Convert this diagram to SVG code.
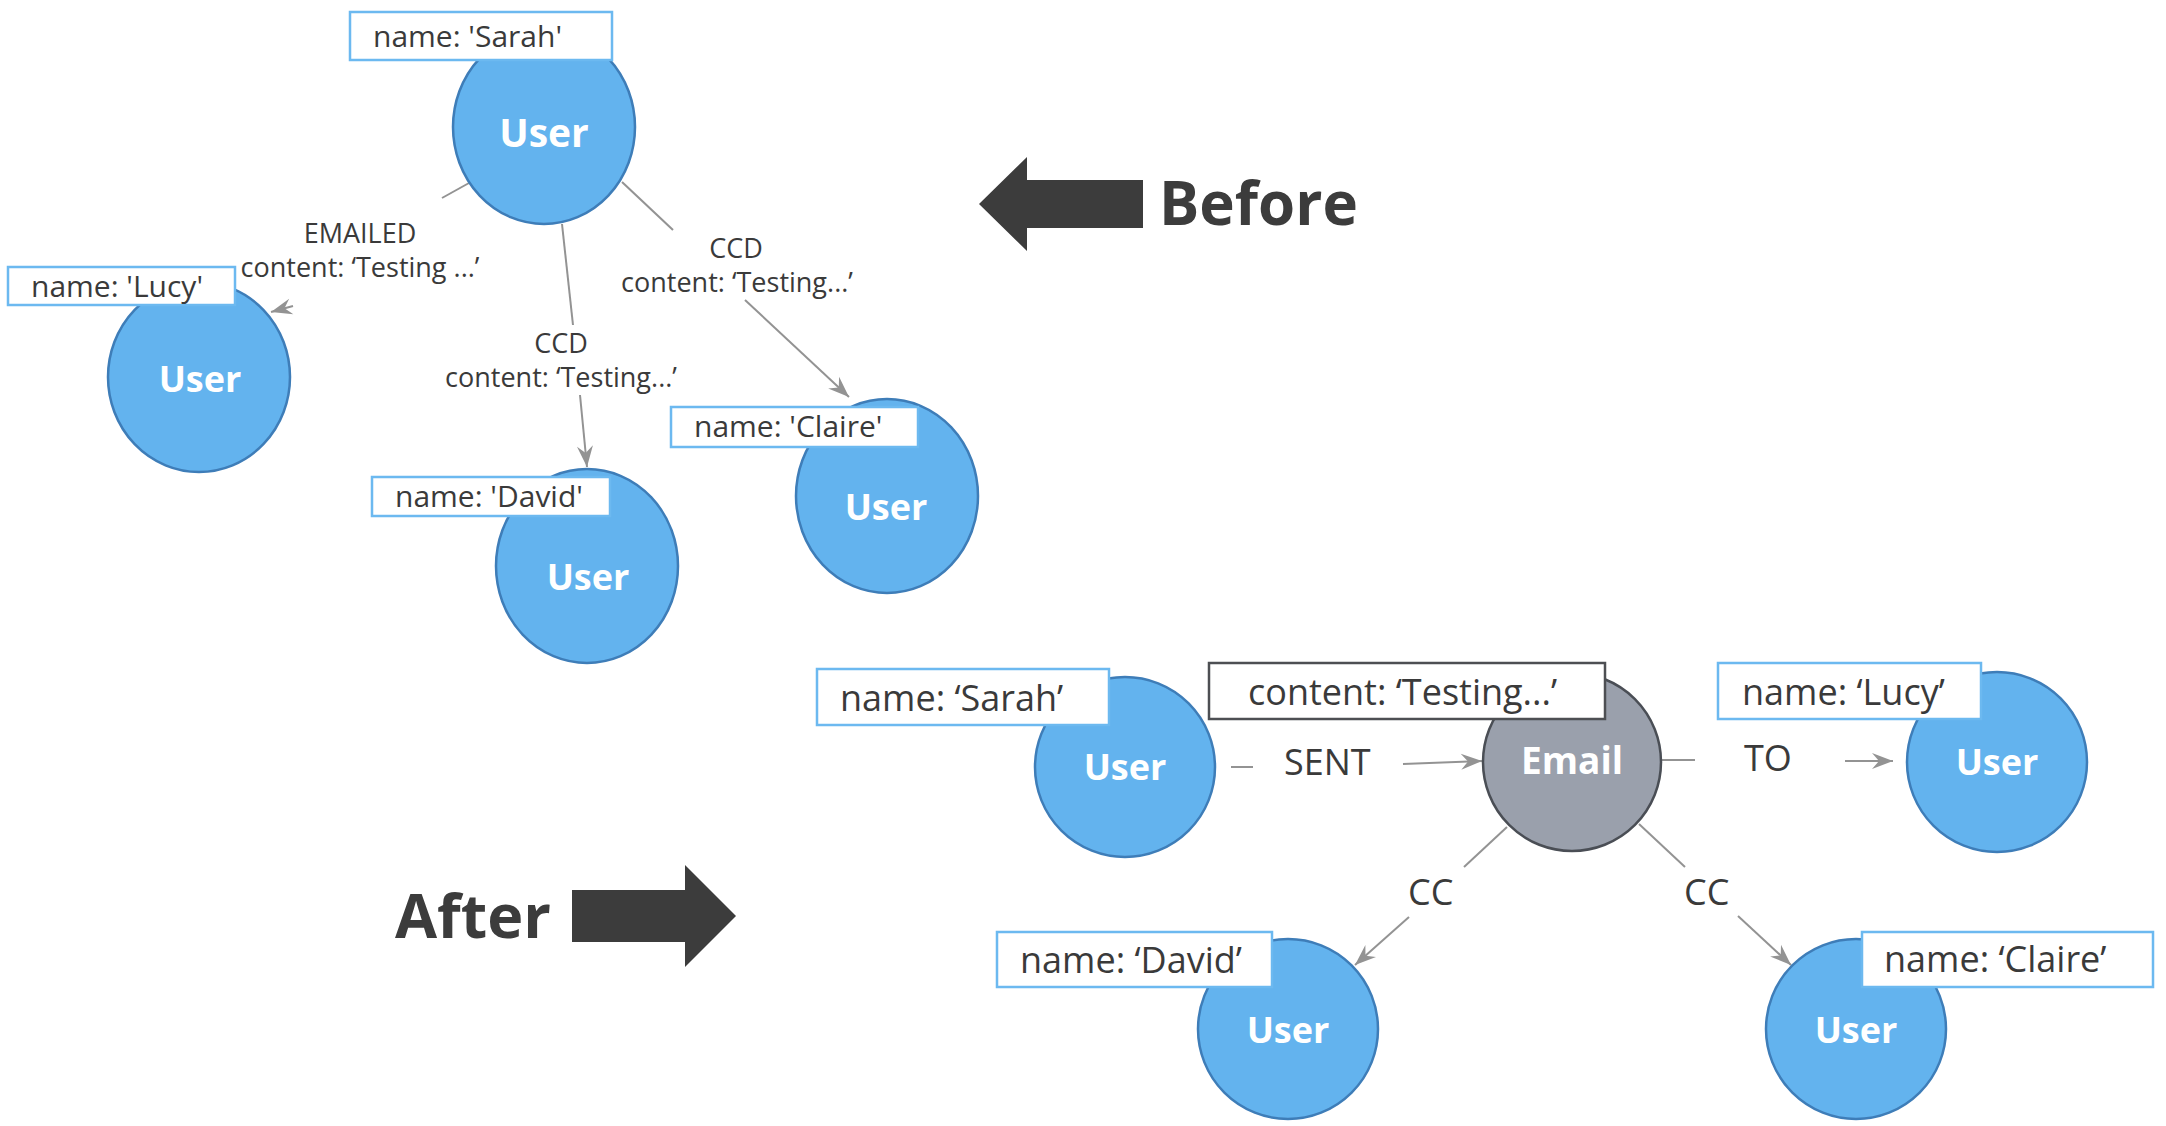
<svg xmlns="http://www.w3.org/2000/svg" width="2166" height="1126" viewBox="0 0 2166 1126">
<style>
.node{fill:#63b3ee;stroke:#3e7db8;stroke-width:2.5}
.email{fill:#9aa0ac;stroke:#4a4e55;stroke-width:2.5}
.nt{font-family:"Open Sans","Liberation Sans",sans-serif;font-weight:bold;fill:#ffffff;text-anchor:middle}
.lbl{fill:#ffffff;stroke:#6cb9f0;stroke-width:2.5}
.lbld{fill:#ffffff;stroke:#4d4f53;stroke-width:2.5}
.lt{font-family:"Open Sans","Liberation Sans",sans-serif;fill:#3a3a3a}
.et{font-family:"Open Sans","Liberation Sans",sans-serif;fill:#3a3a3a;font-size:27px;text-anchor:middle}
.e{stroke:#939393;stroke-width:2;fill:none}
.ea{stroke:#939393;stroke-width:2;fill:none;marker-end:url(#arr)}
.big{font-family:"Open Sans","Liberation Sans",sans-serif;font-weight:bold;fill:#3c3c3c}
</style>
<defs>
<marker id="arr" markerUnits="userSpaceOnUse" viewBox="-22 -9 24 18" refX="0" refY="0" markerWidth="24" markerHeight="18" orient="auto">
<path d="M0,0 L-21,-8 L-14,0 L-21,8 Z" fill="#939393"/>
</marker>
</defs>
<rect width="2166" height="1126" fill="#ffffff"/>

<g id="connectors">
<line class="e" x1="469" y1="183" x2="442" y2="198"/>
<line class="ea" x1="293" y1="306" x2="271" y2="312"/>
<text class="et" x="360" y="243">EMAILED</text>
<text class="et" x="360" y="277">content: ‘Testing ...’</text>

<line class="e" x1="562" y1="224" x2="573" y2="325"/>
<line class="ea" x1="580" y1="395" x2="587" y2="467"/>
<text class="et" x="561" y="353">CCD</text>
<text class="et" x="561" y="387">content: ‘Testing...’</text>

<line class="e" x1="622" y1="182" x2="673" y2="230"/>
<line class="ea" x1="745" y1="300" x2="849" y2="397"/>
<text class="et" x="736" y="258">CCD</text>
<text class="et" x="737" y="292">content: ‘Testing...’</text>

<line class="e" x1="1231" y1="767" x2="1253" y2="767"/>
<text class="lt" x="1284" y="775" font-size="36">SENT</text>
<line class="ea" x1="1403" y1="764" x2="1482" y2="761"/>

<line class="e" x1="1662" y1="760" x2="1695" y2="760"/>
<text class="lt" x="1744" y="771" font-size="36">TO</text>
<line class="ea" x1="1845" y1="761" x2="1893" y2="761"/>

<line class="e" x1="1507" y1="827" x2="1464" y2="867"/>
<text class="lt" x="1408" y="905" font-size="36">CC</text>
<line class="ea" x1="1409" y1="917" x2="1355" y2="965"/>

<line class="e" x1="1639" y1="824" x2="1685" y2="867"/>
<text class="lt" x="1684" y="905" font-size="36">CC</text>
<line class="ea" x1="1738" y1="916" x2="1791" y2="965"/>
</g>

<g id="before-arrow">
<polygon points="979,204 1027,157 1027,180 1143,180 1143,228 1027,228 1027,251" fill="#3c3c3c"/>
<text class="big" x="1159" y="225" font-size="60">Before</text>
</g>
<g id="after-arrow">
<polygon points="572,890 685,890 685,865 736,916 685,967 685,942 572,942" fill="#3c3c3c"/>
<text class="big" x="395" y="938" font-size="61">After</text>
</g>

<g id="top-sarah">
<ellipse class="node" cx="544" cy="127" rx="91" ry="97"/>
<text class="nt" x="544" y="147" font-size="39">User</text>
<rect class="lbl" x="350" y="12" width="262" height="48"/>
<text class="lt" x="373" y="47" font-size="30">name: 'Sarah'</text>
</g>
<g id="top-lucy">
<ellipse class="node" cx="199" cy="377" rx="91" ry="95"/>
<text class="nt" x="200" y="392" font-size="36">User</text>
<rect class="lbl" x="8" y="267" width="227" height="38"/>
<text class="lt" x="31" y="297" font-size="30">name: 'Lucy'</text>
</g>
<g id="top-david">
<ellipse class="node" cx="587" cy="566" rx="91" ry="97"/>
<text class="nt" x="588" y="590" font-size="36">User</text>
<rect class="lbl" x="372" y="477" width="238" height="39"/>
<text class="lt" x="395" y="507" font-size="30">name: 'David'</text>
</g>
<g id="top-claire">
<ellipse class="node" cx="887" cy="496" rx="91" ry="97"/>
<text class="nt" x="886" y="520" font-size="36">User</text>
<rect class="lbl" x="671" y="407" width="247" height="40"/>
<text class="lt" x="694" y="437" font-size="30">name: 'Claire'</text>
</g>

<g id="bottom-sarah">
<circle class="node" cx="1125" cy="767" r="90"/>
<text class="nt" x="1125" y="780" font-size="36">User</text>
<rect class="lbl" x="817" y="669" width="292" height="56"/>
<text class="lt" x="840" y="711" font-size="36">name: ‘Sarah’</text>
</g>
<g id="bottom-email">
<circle class="email" cx="1572" cy="762" r="89"/>
<text class="nt" x="1572" y="774" font-size="37">Email</text>
<rect class="lbld" x="1209" y="663" width="396" height="56"/>
<text class="lt" x="1248" y="705" font-size="36">content: ‘Testing...’</text>
</g>
<g id="bottom-lucy">
<circle class="node" cx="1997" cy="762" r="90"/>
<text class="nt" x="1997" y="775" font-size="36">User</text>
<rect class="lbl" x="1718" y="663" width="263" height="56"/>
<text class="lt" x="1742" y="705" font-size="36">name: ‘Lucy’</text>
</g>
<g id="bottom-david">
<circle class="node" cx="1288" cy="1029" r="90"/>
<text class="nt" x="1288" y="1043" font-size="36">User</text>
<rect class="lbl" x="997" y="932" width="275" height="55"/>
<text class="lt" x="1020" y="973" font-size="36">name: ‘David’</text>
</g>
<g id="bottom-claire">
<circle class="node" cx="1856" cy="1029" r="90"/>
<text class="nt" x="1856" y="1043" font-size="36">User</text>
<rect class="lbl" x="1862" y="932" width="291" height="55"/>
<text class="lt" x="1884" y="972" font-size="36">name: ‘Claire’</text>
</g>
</svg>
